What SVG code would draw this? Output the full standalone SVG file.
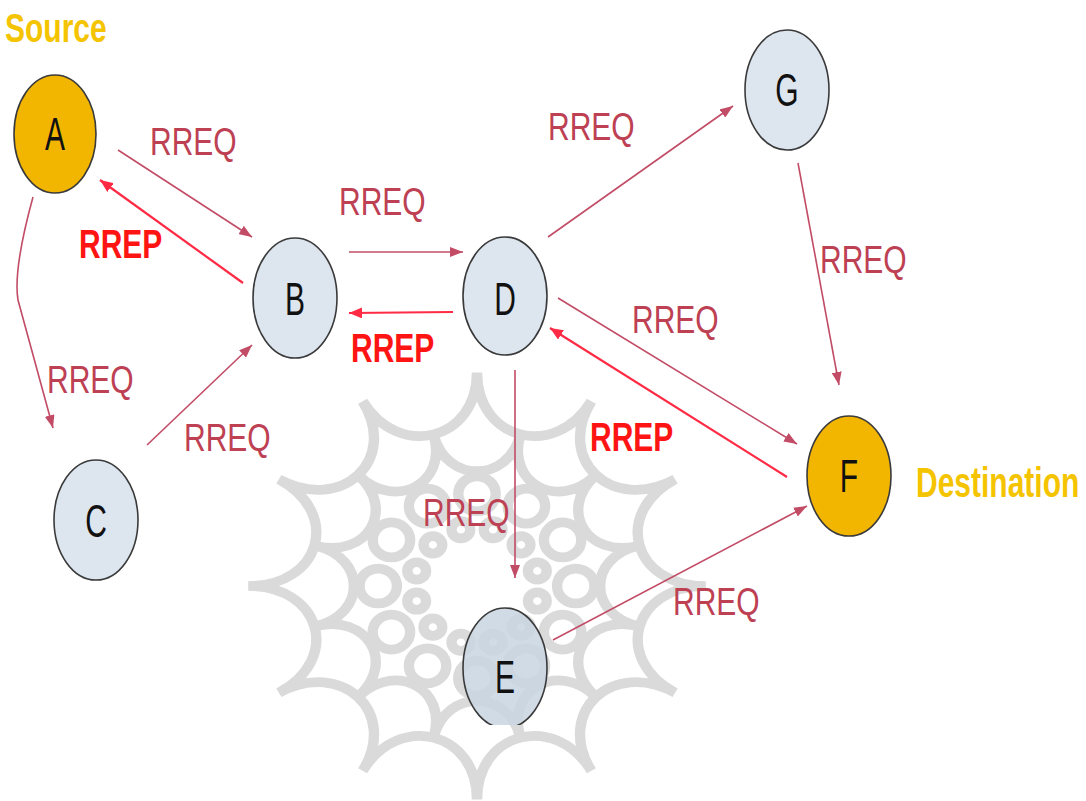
<svg xmlns="http://www.w3.org/2000/svg" width="1086" height="801" viewBox="0 0 1086 801">
<style>
.orn{fill:none;stroke:#dadada;stroke-width:10;stroke-linejoin:miter;stroke-miterlimit:30}
.node{stroke:#3a3a3a;stroke-width:1.6}
.blue{fill:#dde5ef}
.gold{fill:#f3b600}
.letter{font-family:"Liberation Sans",Arial,sans-serif;font-size:30px;fill:#111;text-anchor:middle}
.req{font-family:"Liberation Sans",Arial,sans-serif;font-size:30px;fill:#bd4053}
.rep{font-family:"Liberation Sans",Arial,sans-serif;font-size:30px;font-weight:bold;fill:#ff1414}
.tag{font-family:"Liberation Sans",Arial,sans-serif;font-size:30px;font-weight:bold;fill:#f5c400}
.lreq{fill:none;stroke:#c24c66;stroke-width:1.6}
.lrep{fill:none;stroke:#ff2a44;stroke-width:2.2}
</style>
<defs>
<marker id="hreq" markerUnits="userSpaceOnUse" markerWidth="14" markerHeight="10" refX="13" refY="5" orient="auto">
<path d="M0,0 L13,5 L0,10 Z" fill="#c24c66"/>
</marker>
<marker id="hrep" markerUnits="userSpaceOnUse" markerWidth="14" markerHeight="11" refX="13" refY="5.5" orient="auto">
<path d="M0,0 L13,5.5 L0,11 Z" fill="#ff2a44"/>
</marker>
<clipPath id="clipE"><rect x="400" y="590" width="200" height="135"/></clipPath>
</defs>
<rect width="1086" height="801" fill="#ffffff"/>
<g id="ornament" transform="translate(477,586) scale(1.04,0.97)">
<path class="orn" d="M220,0 C150,0 129.9,75 190.5,110 C129.9,75 75,129.9 110,190.5 C75,129.9 0,150 0,220 C0,150 -75,129.9 -110,190.5 C-75,129.9 -129.9,75 -190.5,110 C-129.9,75 -150,0 -220,0 C-150,0 -129.9,-75 -190.5,-110 C-129.9,-75 -75,-129.9 -110,-190.5 C-75,-129.9 0,-150 0,-220 C0,-150 75,-129.9 110,-190.5 C75,-129.9 129.9,-75 190.5,-110 C129.9,-75 150,0 220,0 Z"/>
<path class="orn" stroke-width="9" d="M154.5,41.4 C106.3,28.5 77.8,77.8 113.1,113.1 C77.8,77.8 28.5,106.3 41.4,154.5 C28.5,106.3 -28.5,106.3 -41.4,154.5 C-28.5,106.3 -77.8,77.8 -113.1,113.1 C-77.8,77.8 -106.3,28.5 -154.5,41.4 C-106.3,28.5 -106.3,-28.5 -154.5,-41.4 C-106.3,-28.5 -77.8,-77.8 -113.1,-113.1 C-77.8,-77.8 -28.5,-106.3 -41.4,-154.5 C-28.5,-106.3 28.5,-106.3 41.4,-154.5 C28.5,-106.3 77.8,-77.8 113.1,-113.1 C77.8,-77.8 106.3,-28.5 154.5,-41.4 C106.3,-28.5 106.3,28.5 154.5,41.4 Z"/>
<g class="orn" stroke-width="8">
<circle cx="95" cy="0" r="18"/><circle cx="82.3" cy="47.5" r="18"/><circle cx="47.5" cy="82.3" r="18"/><circle cx="0" cy="95" r="18"/><circle cx="-47.5" cy="82.3" r="18"/><circle cx="-82.3" cy="47.5" r="18"/><circle cx="-95" cy="0" r="18"/><circle cx="-82.3" cy="-47.5" r="18"/><circle cx="-47.5" cy="-82.3" r="18"/><circle cx="0" cy="-95" r="18"/><circle cx="47.5" cy="-82.3" r="18"/><circle cx="82.3" cy="-47.5" r="18"/>
</g>
<g class="orn" stroke-width="6">
<circle cx="58" cy="15.5" r="9"/><circle cx="42.4" cy="42.4" r="9"/><circle cx="15.5" cy="58" r="9"/><circle cx="-15.5" cy="58" r="9"/><circle cx="-42.4" cy="42.4" r="9"/><circle cx="-58" cy="15.5" r="9"/><circle cx="-58" cy="-15.5" r="9"/><circle cx="-42.4" cy="-42.4" r="9"/><circle cx="-15.5" cy="-58" r="9"/><circle cx="15.5" cy="-58" r="9"/><circle cx="42.4" cy="-42.4" r="9"/><circle cx="58" cy="-15.5" r="9"/>
</g>
</g>
<g id="connectors">
<line class="lreq" x1="118" y1="150" x2="252" y2="237" marker-end="url(#hreq)"/>
<line class="lrep" x1="243" y1="283" x2="100" y2="180" marker-end="url(#hrep)"/>
<path class="lreq" d="M33,197 Q13,270 18,300 L53,428" marker-end="url(#hreq)"/>
<line class="lreq" x1="147" y1="445" x2="252" y2="345" marker-end="url(#hreq)"/>
<line class="lreq" x1="349" y1="252" x2="463" y2="252" marker-end="url(#hreq)"/>
<line class="lrep" x1="453" y1="312" x2="349" y2="313" marker-end="url(#hrep)"/>
<line class="lreq" x1="548" y1="237" x2="733" y2="106" marker-end="url(#hreq)"/>
<line class="lreq" x1="798" y1="163" x2="839" y2="385" marker-end="url(#hreq)"/>
<line class="lreq" x1="558" y1="298" x2="797" y2="444" marker-end="url(#hreq)"/>
<line class="lrep" x1="787" y1="477" x2="550" y2="328" marker-end="url(#hrep)"/>
<line class="lreq" x1="515" y1="370" x2="515" y2="578" marker-end="url(#hreq)"/>
<line class="lreq" x1="553" y1="640" x2="807" y2="506" marker-end="url(#hreq)"/>
</g>
<g id="labels">
<text class="req" transform="translate(150,155) scale(1,1.3)">RREQ</text>
<text class="rep" transform="translate(79,258) scale(1,1.35)">RREP</text>
<text class="req" transform="translate(339,215) scale(1,1.3)">RREQ</text>
<text class="rep" transform="translate(351,362) scale(1,1.35)">RREP</text>
<text class="req" transform="translate(47,393) scale(1,1.3)">RREQ</text>
<text class="req" transform="translate(184,451) scale(1,1.3)">RREQ</text>
<text class="req" transform="translate(548,140) scale(1,1.3)">RREQ</text>
<text class="req" transform="translate(820,273) scale(1,1.3)">RREQ</text>
<text class="req" transform="translate(632,333) scale(1,1.3)">RREQ</text>
<text class="rep" transform="translate(590,451) scale(1,1.35)">RREP</text>
<text class="req" transform="translate(423,526) scale(1,1.3)">RREQ</text>
<text class="req" transform="translate(673,615) scale(1,1.3)">RREQ</text>
</g>
<g id="node-A">
<ellipse class="node gold" cx="55" cy="134" rx="41" ry="59"/>
<text class="letter" transform="translate(55,150) scale(1,1.55)">A</text>
<text class="tag" transform="translate(5,42) scale(1,1.35)">Source</text>
</g>
<g id="node-B">
<ellipse class="node blue" cx="295" cy="298" rx="42" ry="60"/>
<text class="letter" transform="translate(295,315) scale(1,1.55)">B</text>
</g>
<g id="node-C">
<ellipse class="node blue" cx="96" cy="520" rx="42" ry="60"/>
<text class="letter" transform="translate(96,537) scale(1,1.55)">C</text>
</g>
<g id="node-D">
<ellipse class="node blue" cx="505" cy="296" rx="42" ry="59"/>
<text class="letter" transform="translate(505,315) scale(1,1.55)">D</text>
</g>
<g id="node-E">
<ellipse class="node" clip-path="url(#clipE)" cx="505" cy="668" rx="42" ry="60" fill="#c9d5e2" fill-opacity="0.85"/>
<text class="letter" transform="translate(505,693) scale(1,1.55)">E</text>
</g>
<g id="node-F">
<ellipse class="node gold" cx="849" cy="476" rx="42" ry="60"/>
<text class="letter" transform="translate(849,492) scale(1,1.55)">F</text>
<text class="tag" transform="translate(916,497) scale(1,1.42)">Destination</text>
</g>
<g id="node-G">
<ellipse class="node blue" cx="787" cy="90" rx="42" ry="60"/>
<text class="letter" transform="translate(787,106) scale(1,1.55)">G</text>
</g>
</svg>
